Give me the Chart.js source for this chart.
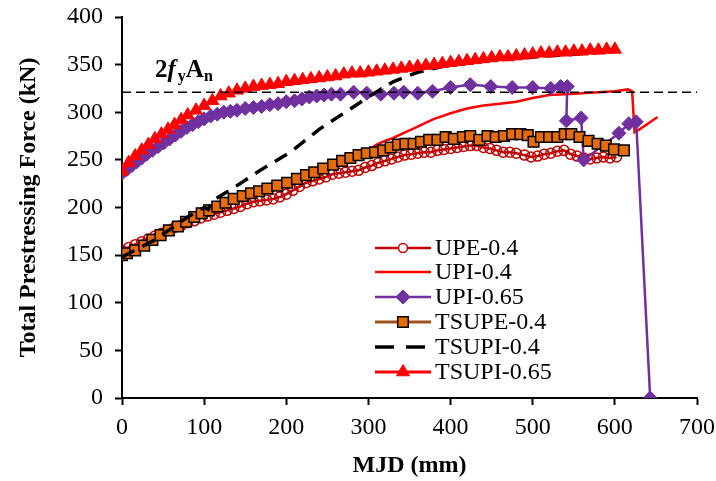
<!DOCTYPE html>
<html>

<head>
    <meta charset="utf-8">
    <title>Total Prestressing Force vs MJD</title>
    <script src="https://cdn.jsdelivr.net/npm/chart.js@4.4.1/dist/chart.umd.min.js"></script>
    <style>
        body { margin: 0; background: #fff; }
        #wrap { width: 716px; height: 481px; position: relative; }
    </style>
</head>

<body>
    <div id="wrap"><canvas id="myChart"></canvas></div>
    <script>
        // data: MJD (mm) and total prestressing force (kN)
        const upeX = [0, 8, 16, 24, 32, 40, 48, 56, 64, 72, 80, 88, 96, 104, 112, 120, 128, 136, 144, 152, 160, 168, 176, 184, 192, 200, 208, 216, 224, 232, 240, 248, 256, 264, 272, 280, 288, 296, 304, 312, 320, 328, 336, 344, 352, 360, 368, 376, 384, 392, 400, 408, 416, 424, 432, 440, 448, 456, 464, 472, 480, 490, 498, 506, 514, 522, 530, 538, 546, 554, 562, 570, 578, 586, 594, 602];
        const upeY = [155, 158, 161, 164, 167, 170, 173, 176, 179, 181, 184, 186, 189, 191, 193, 195, 197, 199, 201, 204, 206, 207, 208, 209, 211, 214, 218, 222, 226, 228, 230, 232, 235, 236, 237, 238, 239, 242, 244, 247, 249, 251, 253, 255, 256, 257, 258, 258, 260, 261, 262, 263, 264, 265, 265, 263, 262, 260, 258, 258, 257, 255, 253, 254, 256, 257, 259, 260, 256, 254, 252, 251, 252, 253, 252, 253];

        const upi04X = [0, 20, 40, 60, 80, 100, 120, 140, 160, 180, 200, 220, 240, 260, 280, 290, 300, 310, 320, 330, 340, 350, 360, 370, 380, 390, 400, 420, 440, 460, 480, 500, 520, 540, 560, 580, 600, 616, 621, 624, 630, 640, 652];
        const upi04Y = [154, 163, 172, 180, 188, 195, 202, 208, 214, 220, 226, 232, 238, 244, 251, 255, 260, 266, 270, 273, 277, 281, 285, 289, 293, 296, 299, 304, 307, 309, 311, 315, 318, 319, 320, 321, 322, 324, 322, 279, 282, 288, 295];

        const upi065X = [0, 6, 12, 18, 24, 30, 37, 44, 51, 58, 65, 72, 79, 86, 93, 100, 108, 116, 124, 132, 140, 150, 160, 170, 180, 190, 200, 210, 219, 228, 237, 246, 255, 266, 282, 298, 315, 331, 343, 360, 378, 400, 424, 449, 475, 500, 522, 534, 542, 541, 559, 562, 605, 617, 626, 643];
        const upi065Y = [236, 240, 244, 248, 252, 256, 260, 264, 268, 272, 276, 280, 284, 287, 290, 293, 296, 298, 300, 301, 302, 304, 305, 306, 308, 309, 311, 312, 314, 316, 317, 318, 319, 319, 321, 320, 319, 320, 321, 320, 322, 326, 329, 327, 326, 326, 325, 327, 327, 291, 294, 250, 278, 288, 290, 0];

        const tsupe04X = [0, 6, 16, 27, 37, 47, 57, 68, 78, 88, 97, 106, 116, 126, 136, 147, 157, 167, 177, 189, 201, 213, 224, 234, 245, 257, 268, 278, 288, 298, 308, 318, 327, 336, 345, 355, 364, 374, 384, 394, 404, 415, 424, 435, 445, 455, 465, 475, 485, 494, 501, 510, 520, 530, 539, 547, 557, 568, 579, 589, 599, 611];
        const tsupe04Y = [150, 152, 155, 160, 166, 171, 176, 180, 185, 190, 194, 197, 201, 205, 209, 212, 215, 217, 220, 223, 226, 230, 234, 237, 241, 245, 249, 252, 255, 257, 258, 260, 263, 266, 267, 267, 269, 271, 271, 274, 272, 274, 275, 271, 275, 274, 275, 277, 277, 276, 269, 274, 274, 274, 277, 277, 274, 270, 267, 265, 261, 260];

        const tsupi04X = [0, 40, 80, 100, 105, 110, 140, 170, 205, 240, 270, 300, 330, 360, 400, 450, 500, 550, 600];
        const tsupi04Y = [148, 166, 190, 200, 198, 207, 223, 240, 258, 282, 299, 316, 332, 342, 350, 355, 358, 361, 364];

        const tsupi065X = [0, 8, 16, 24, 32, 40, 48, 56, 64, 72, 80, 90, 100, 110, 120, 130, 140, 150, 160, 170, 180, 190, 200, 210, 220, 230, 240, 250, 260, 270, 280, 290, 300, 310, 320, 330, 340, 350, 360, 370, 380, 390, 400, 410, 420, 430, 440, 450, 460, 470, 480, 490, 500, 510, 520, 530, 540, 550, 560, 570, 580, 590, 600];
        const tsupi065Y = [238, 247, 254, 260, 266, 272, 277, 282, 287, 292, 297, 302, 307, 312, 317, 320, 323, 325, 327, 328, 329, 330, 332, 333, 334, 335, 336, 337, 338, 340, 341, 341, 342, 343, 344, 345, 346, 347, 348, 349, 350, 351, 352, 353, 354, 355, 356, 357, 358, 358, 359, 360, 361, 362, 362, 363, 363, 364, 364, 365, 365, 366, 366];

        // 2 fy An reference level
        const refX = [0, 700];
        const refY = [321, 321];

        const xTicks = { min: 0, max: 700, step: 100 };
        const yTicks = { min: 0, max: 400, step: 50 };

        function pts(xs, ys) {
            return xs.map(function (x, i) { return { x: x, y: ys[i] }; });
        }

        const serif = "'Liberation Serif', 'Times New Roman', serif";
        Chart.defaults.font.family = serif;
        Chart.defaults.color = '#000';

        const datasets = [
            {
                label: 'UPE-0.4', data: pts(upeX, upeY), order: 6,
                borderColor: '#C00000', borderWidth: 2.5,
                pointStyle: 'circle', pointRadius: 5, pointBorderWidth: 1.5,
                pointBorderColor: '#C00000', pointBackgroundColor: 'rgba(255,255,255,0)'
            },
            {
                label: 'UPI-0.4', data: pts(upi04X, upi04Y), order: 5,
                borderColor: '#FF0000', borderWidth: 2.5, pointRadius: 0
            },
            {
                label: 'UPI-0.65', data: pts(upi065X, upi065Y), order: 4,
                borderColor: '#7030A0', borderWidth: 2.5,
                pointStyle: 'rectRot', pointRadius: 7, pointBorderWidth: 1,
                pointBorderColor: '#7030A0', pointBackgroundColor: '#7030A0'
            },
            {
                label: 'TSUPE-0.4', data: pts(tsupe04X, tsupe04Y), order: 3,
                borderColor: '#A0521E', borderWidth: 3,
                pointStyle: 'rect', pointRadius: 7.5, pointBorderWidth: 1.5,
                pointBorderColor: '#000', pointBackgroundColor: '#E46C0A'
            },
            {
                label: 'TSUPI-0.4', data: pts(tsupi04X, tsupi04Y), order: 2,
                borderColor: '#000', borderWidth: 3.5, borderDash: [14, 9], pointRadius: 0
            },
            {
                label: 'TSUPI-0.65', data: pts(tsupi065X, tsupi065Y), order: 1,
                borderColor: '#FF0000', borderWidth: 3,
                pointStyle: 'triangle', pointRadius: 7.5, pointBorderWidth: 1,
                pointBorderColor: '#FF0000', pointBackgroundColor: '#FF0000'
            },
            {
                label: 'ref', data: pts(refX, refY), order: 0,
                borderColor: '#000', borderWidth: 1.3, borderDash: [9, 5], pointRadius: 0
            }
        ];

        function drawMarker(ctx, style, x, y, r, fill, stroke, lw) {
            ctx.beginPath();
            if (style === 'circle') {
                ctx.arc(x, y, r, 0, Math.PI * 2);
            } else if (style === 'rectRot') {
                ctx.moveTo(x, y - r); ctx.lineTo(x + r, y); ctx.lineTo(x, y + r); ctx.lineTo(x - r, y); ctx.closePath();
            } else if (style === 'rect') {
                const s = r * Math.SQRT1_2;
                ctx.rect(x - s, y - s, 2 * s, 2 * s);
            } else if (style === 'triangle') {
                ctx.moveTo(x, y - r);
                ctx.lineTo(x + r * Math.sin(Math.PI / 3), y + r / 2);
                ctx.lineTo(x - r * Math.sin(Math.PI / 3), y + r / 2);
                ctx.closePath();
            }
            ctx.fillStyle = fill; ctx.fill();
            ctx.lineWidth = lw; ctx.strokeStyle = stroke; ctx.stroke();
        }

        // legend drawn inside the plot like the original
        const legendRows = [248, 272, 297, 322, 347, 372];
        const legendFill = ['#fff', null, null, null, null, null];
        const boxLegend = {
            id: 'boxLegend',
            afterDraw(chart) {
                const ctx = chart.ctx;
                ctx.save();
                for (let i = 0; i < 6; i++) {
                    const ds = chart.data.datasets[i];
                    const y = legendRows[i];
                    ctx.beginPath();
                    ctx.setLineDash(ds.borderDash ? [19, 12] : []);
                    ctx.lineWidth = ds.borderWidth;
                    ctx.strokeStyle = ds.borderColor;
                    ctx.moveTo(375, y); ctx.lineTo(431, y);
                    ctx.stroke();
                    ctx.setLineDash([]);
                    if (ds.pointRadius > 0) {
                        const r = ds.pointStyle === 'circle' ? 4.5 : ds.pointRadius;
                        drawMarker(ctx, ds.pointStyle, 403, y, r, legendFill[i] || ds.pointBackgroundColor, ds.pointBorderColor, ds.pointBorderWidth);
                    }
                    ctx.fillStyle = '#000';
                    ctx.font = '24px ' + serif;
                    ctx.textAlign = 'left';
                    ctx.textBaseline = 'middle';
                    ctx.fillText(ds.label, 435, y + 1);
                }
                // 2 fy An label
                let x = 155;
                const base = 77;
                const parts = [
                    { t: '2', f: 'bold 25px ', dy: 0 },
                    { t: 'f', f: 'italic bold 25px ', dy: 0 },
                    { t: 'y', f: 'bold 16px ', dy: 4 },
                    { t: 'A', f: 'bold 25px ', dy: 0 },
                    { t: 'n', f: 'bold 16px ', dy: 4 }
                ];
                ctx.textBaseline = 'alphabetic';
                parts.forEach(function (p) {
                    ctx.font = p.f + serif;
                    ctx.fillText(p.t, x, base + p.dy);
                    x += ctx.measureText(p.t).width + (p.t === 'f' ? 2 : 0);
                });
                ctx.restore();
            }
        };

        const config = {
            type: 'line',
            data: { datasets: datasets },
            options: {
                responsive: true,
                maintainAspectRatio: false,
                animation: false,
                layout: { padding: { top: 17, right: 19, bottom: 0, left: 0 } },
                plugins: { legend: { display: false }, tooltip: { enabled: false } },
                elements: { line: { tension: 0 } },
                scales: {
                    x: {
                        type: 'linear',
                        min: xTicks.min, max: xTicks.max,
                        ticks: { stepSize: xTicks.step, font: { size: 24 }, padding: 8, color: '#000' },
                        grid: { drawOnChartArea: false, tickLength: 7, color: '#000', tickWidth: 2 },
                        border: { color: '#000', width: 2 },
                        title: { display: true, text: 'MJD (mm)', font: { size: 24, weight: 'bold' }, padding: { top: 0, bottom: 1 } },
                        afterFit(scale) {
                            scale.height = 83;
                            scale.paddingLeft = 0;
                            scale.paddingRight = 0;
                        }
                    },
                    y: {
                        min: yTicks.min, max: yTicks.max,
                        ticks: { stepSize: yTicks.step, font: { size: 24 }, padding: 12, color: '#000' },
                        grid: { drawOnChartArea: false, tickLength: 7, color: '#000', tickWidth: 2 },
                        border: { color: '#000', width: 2 },
                        title: { display: true, text: 'Total Prestressing Force (kN)', font: { size: 24, weight: 'bold' }, padding: { top: 14, bottom: 0 } },
                        afterFit(scale) {
                            scale.width = 122;
                            scale.paddingTop = 0;
                            scale.paddingBottom = 0;
                        }
                    }
                }
            },
            plugins: [boxLegend]
        };

        const myChart = new Chart(document.getElementById('myChart'), config);
    </script>
</body>

</html>
